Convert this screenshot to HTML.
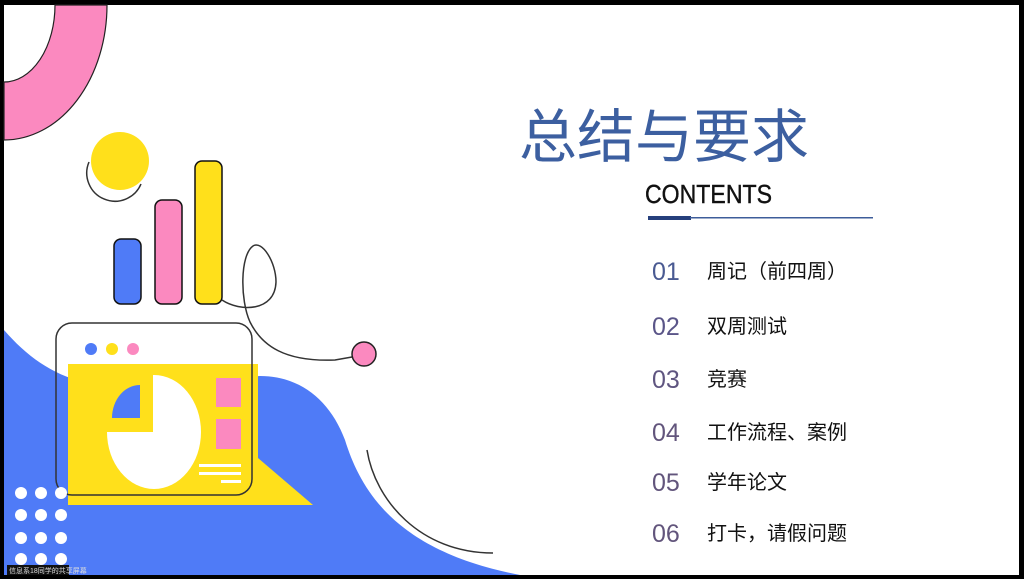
<!DOCTYPE html>
<html><head><meta charset="utf-8"><style>
html,body{margin:0;padding:0;background:#000;}
svg{display:block}
</style></head><body>
<svg width="1024" height="579" viewBox="0 0 1024 579" xmlns="http://www.w3.org/2000/svg">
<rect x="0" y="0" width="1024" height="579" fill="#000"/>
<rect x="4" y="5" width="1015" height="570" fill="#fff"/>
<!-- blue wave -->
<path d="M4,330 C30,360 60,380 100,385 L260,376 C300,376 330,400 345,440 C362,495 400,552 520,575 L4,575 Z" fill="#4f7bf7"/>
<!-- pink ring -->
<path d="M55,5 A51,77 0 0 1 4,82 L4,140 A103,135 0 0 0 107,5 Z" fill="#fb89bf" stroke="#222" stroke-width="1.2"/>
<!-- yellow circle -->
<path d="M89,162 A28,28 0 0 0 141,184" fill="none" stroke="#333" stroke-width="1.5"/>
<circle cx="120" cy="161" r="29" fill="#ffe01b"/>
<!-- bars -->
<rect x="114" y="239" width="27" height="65" rx="7" fill="#4f7bf7" stroke="#111" stroke-width="1.5"/>
<rect x="155" y="200" width="27" height="104" rx="7" fill="#fb89bf" stroke="#111" stroke-width="1.5"/>
<rect x="195" y="161" width="27" height="143" rx="7" fill="#ffe01b" stroke="#111" stroke-width="1.5"/>
<!-- curly line -->
<path d="M222,300 C240,312 275,312 276,282 C276,262 262,240 253,246 C240,255 240,300 250,322 C262,346 285,362 335,360 L352,357" fill="none" stroke="#333" stroke-width="1.5"/>
<circle cx="364" cy="354" r="12" fill="#fb89bf" stroke="#222" stroke-width="1.5"/>
<!-- thin arc -->
<path d="M367,450 C375,500 420,553 493,553" fill="none" stroke="#333" stroke-width="1.5"/>
<!-- laptop -->
<rect x="68" y="364" width="190" height="141" fill="#ffe01b"/>
<path d="M258,458 L313,505 L258,505 Z" fill="#ffe01b"/>
<ellipse cx="154" cy="432" rx="47" ry="57" fill="#fff"/>
<rect x="105" y="374" width="48" height="58" fill="#ffe01b"/>
<path d="M140,418 L112,418 A28,33 0 0 1 140,385 Z" fill="#4f7bf7"/>
<rect x="216" y="378" width="25" height="29" fill="#fb89bf"/>
<rect x="216" y="419" width="25" height="30" fill="#fb89bf"/>
<rect x="199" y="464" width="42" height="3" fill="#fff"/>
<rect x="199" y="472" width="42" height="3" fill="#fff"/>
<rect x="221" y="480" width="20" height="3" fill="#fff"/>
<rect x="56" y="323" width="196" height="172" rx="16" fill="none" stroke="#333" stroke-width="1.5"/>
<circle cx="91" cy="349" r="6" fill="#4f7bf7"/>
<circle cx="112" cy="349" r="6" fill="#ffe01b"/>
<circle cx="133" cy="349" r="6" fill="#fb89bf"/>
<!-- white dots -->
<g fill="#fff">
<circle cx="21" cy="493" r="6"/><circle cx="41" cy="493" r="6"/><circle cx="61" cy="493" r="6"/>
<circle cx="21" cy="515" r="6"/><circle cx="41" cy="515" r="6"/><circle cx="61" cy="515" r="6"/>
<circle cx="21" cy="538" r="6"/><circle cx="41" cy="538" r="6"/><circle cx="61" cy="538" r="6"/>
<circle cx="21" cy="559" r="6"/><circle cx="41" cy="559" r="6"/><circle cx="61" cy="559" r="6"/>
</g>
<rect x="7" y="565" width="62" height="10" fill="#111"/>
<text x="9" y="573" font-size="7" fill="#ddd" font-family="'Liberation Sans','Noto Sans CJK SC',sans-serif">信息系18同学的共享屏幕</text>
<!-- title -->
<text x="519" y="157" font-size="58" fill="#3c5fa0" font-family="'Liberation Sans','Noto Sans CJK SC',sans-serif">总结与要求</text>
<text x="645" y="203" font-size="26" fill="#111" stroke="#111" stroke-width="0.4" textLength="127" lengthAdjust="spacingAndGlyphs" font-family="'Liberation Sans',sans-serif">CONTENTS</text>
<rect x="648" y="216" width="43" height="4" fill="#253f7c"/>
<rect x="690" y="217" width="183" height="1.5" fill="#3d5d9a"/>
<g font-family="'Liberation Sans',sans-serif" font-size="25">
<text x="652" y="280" fill="#4a5a92">01</text>
<text x="652" y="335" fill="#5a5588">02</text>
<text x="652" y="388" fill="#5f5580">03</text>
<text x="652" y="441" fill="#62557c">04</text>
<text x="652" y="491" fill="#62557c">05</text>
<text x="652" y="542" fill="#62557c">06</text>
</g>
<g font-family="'Liberation Sans','Noto Sans CJK SC',sans-serif" font-size="20" fill="#111">
<text x="707" y="278">周记（前四周）</text>
<text x="707" y="333">双周测试</text>
<text x="707" y="386">竞赛</text>
<text x="707" y="439">工作流程、案例</text>
<text x="707" y="489">学年论文</text>
<text x="707" y="540">打卡，请假问题</text>
</g>
</svg>
</body></html>
